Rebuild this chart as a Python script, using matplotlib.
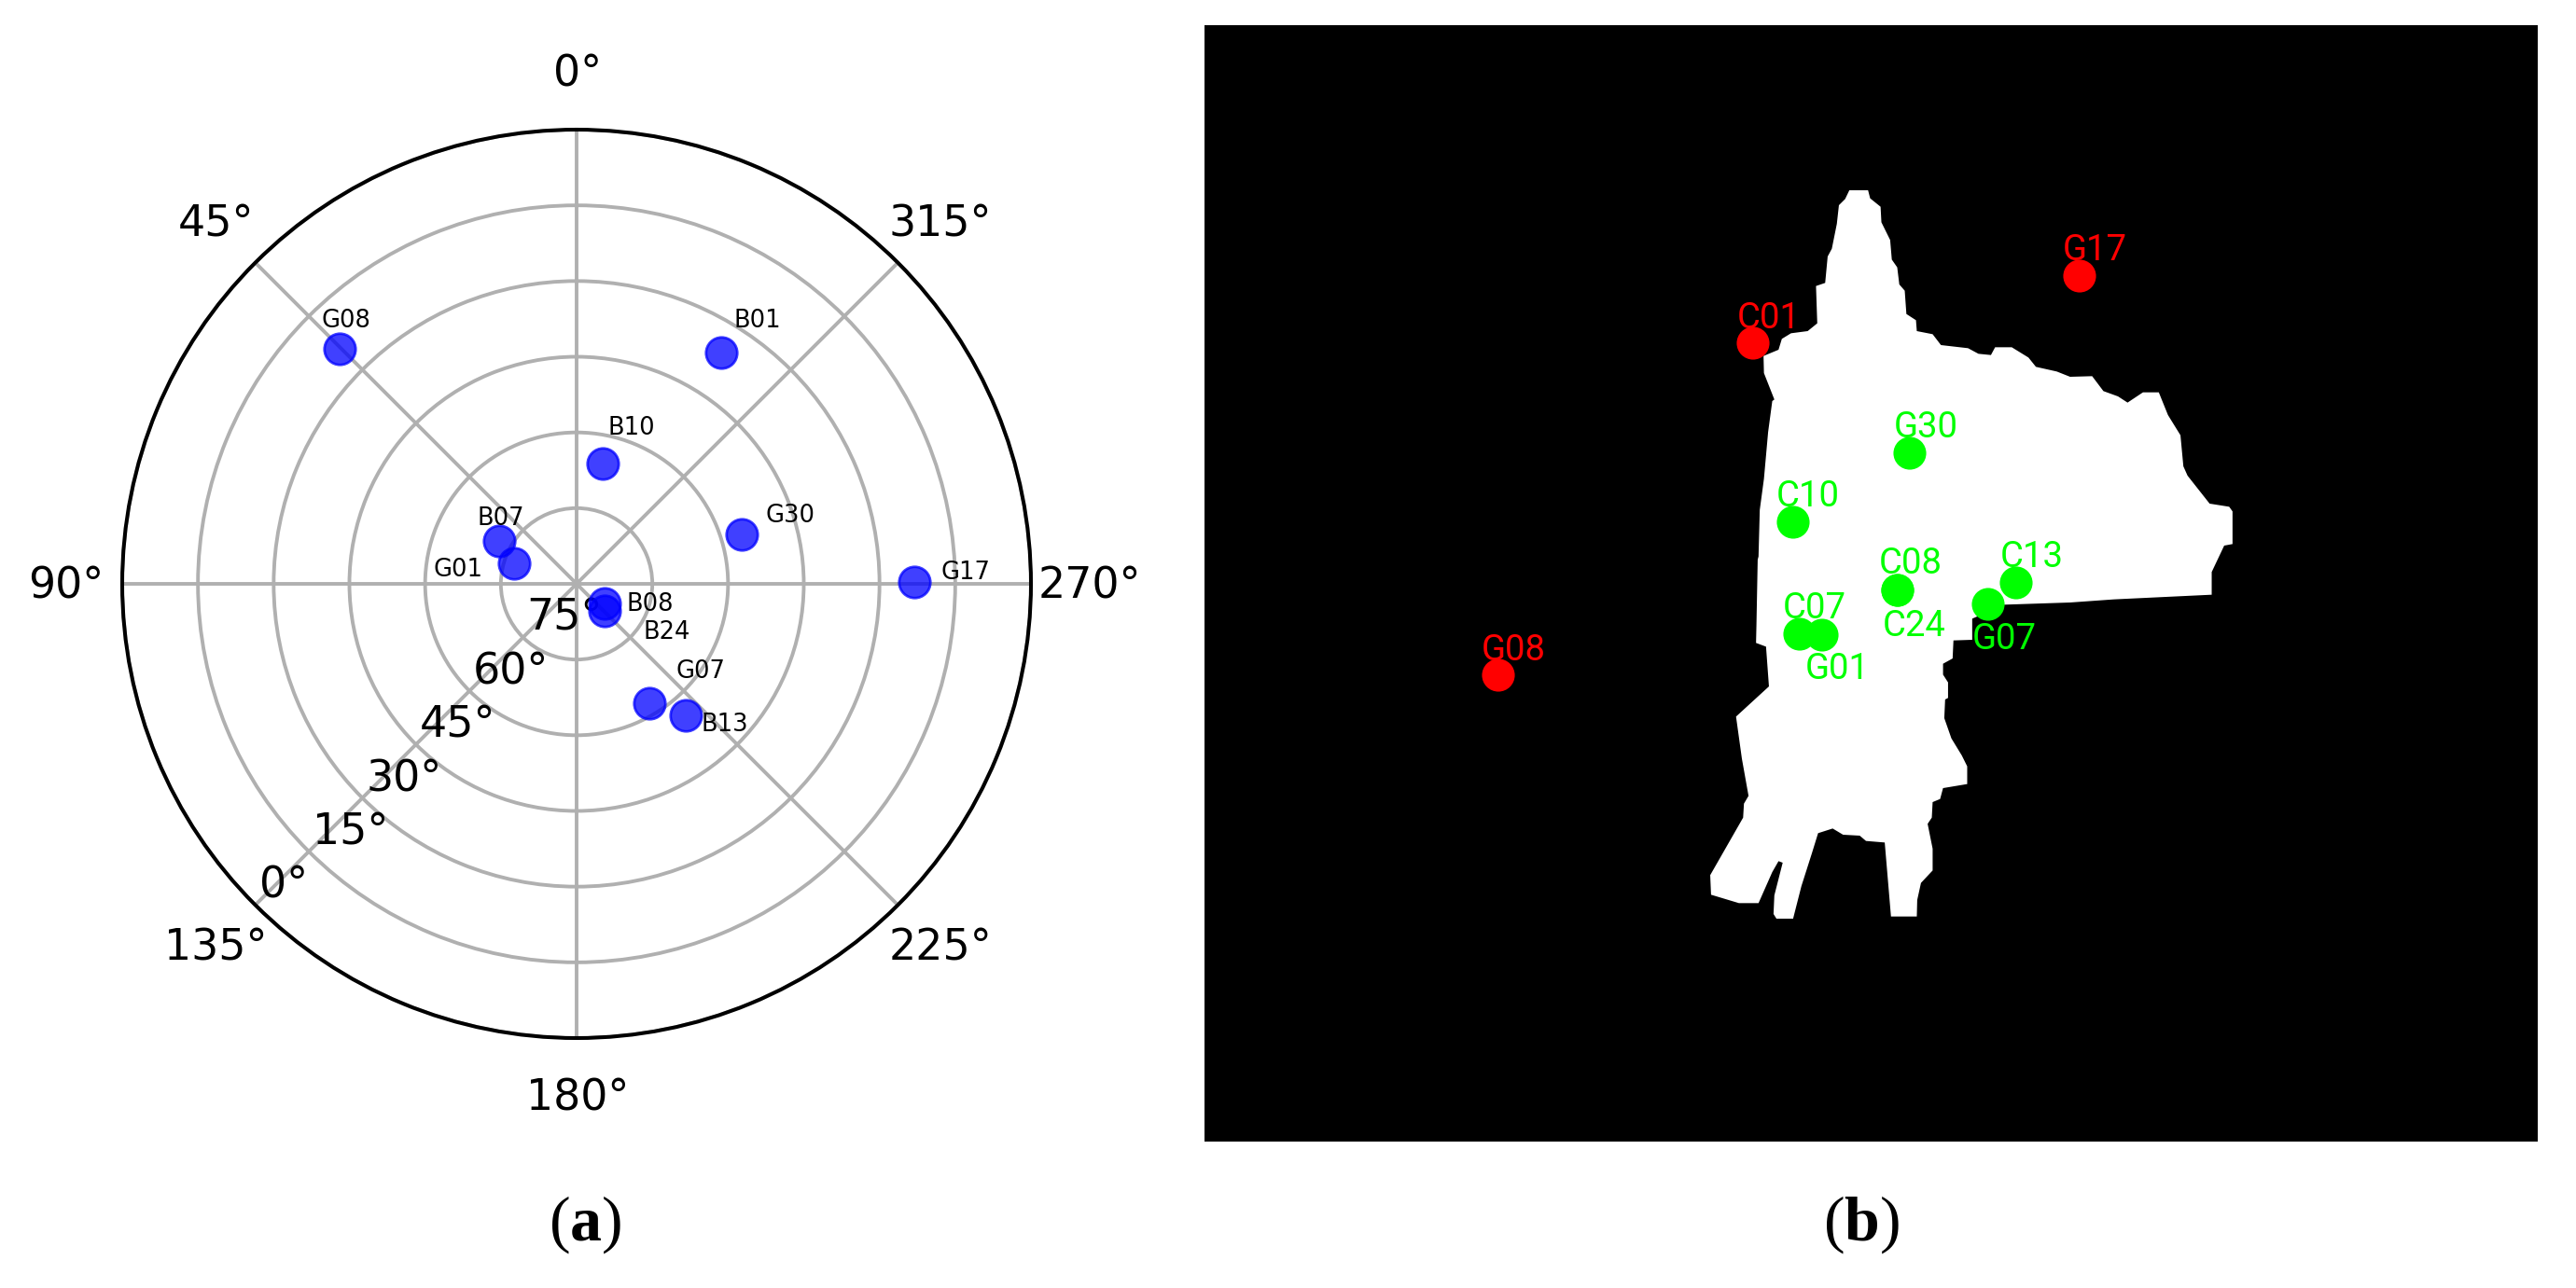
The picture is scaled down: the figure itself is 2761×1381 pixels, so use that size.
import numpy as np
import matplotlib
matplotlib.use("Agg")
import matplotlib.pyplot as plt
from matplotlib.transforms import ScaledTranslation

plt.rcParams['mathtext.fontset'] = 'custom'
plt.rcParams['mathtext.rm'] = 'Liberation Serif'
plt.rcParams['mathtext.bf'] = 'Liberation Serif:bold'

W, H = 2761, 1381

# ---- panel (a): sky plot
sat_names = ["G08", "B01", "G17", "B10", "G30", "B07", "G01", "B08", "B24", "G07", "B13"]
sat_azimuth = [45.2, 328.0, 270.3, 347.9, 286.7, 60.8, 71.6, 234.7, 225.1, 211.3, 219.7]
sat_elevation = [23.8, 35.9, 23.1, 65.7, 55.9, 72.5, 76.9, 83.3, 82.3, 62.3, 56.1]
elevation_ticks = [75, 60, 45, 30, 15, 0]
azimuth_ticks = [0, 45, 90, 135, 180, 225, 270, 315]

# label offsets, reference pixels (right, up) from the dot
sky_label_dx = [7, 39, 55, 31, 52, 1, -60, 49, 67, 55, 42]
sky_label_dy = [30, 34, 10, 38, 20, 24, -7, -1, -23, 34, -10]

# ---- panel (b): visibility on the sky mask
vis_names = ["G17", "C01", "G08", "G30", "C10", "C13", "G07", "C08", "C24", "C07", "G01"]
vis_x = [2229, 1879, 1606, 2047, 1922, 2161, 2131, 2034, 2034, 1929, 1953]
vis_y = [296, 368, 724, 486, 560, 625, 648, 633, 633, 680, 681]
vis_blocked = [True, True, True, False, False, False, False, False, False, False, False]
vis_label_x = [2211, 1862, 1588, 2030, 1904, 2144, 2114, 2014, 2018, 1911, 1935]
vis_label_y = [279, 352, 708, 469, 543, 608, 696, 615, 682, 663, 728]

mask_upper_u = [520,565,570,595,597,618,622,635,640,653,657,680,682,720,740,805,830,860,870,910,950,968,1018,1050,1103,1130,1165,1188,1225,1263,1285,1315,1322,1332,1385,1432,1440,1440,1420,1390,1390,1280,1155,1050,892]
mask_upper_v = [72,72,98,125,175,232,295,320,375,395,470,490,525,535,570,580,598,602,577,577,610,640,655,672,670,718,735,755,722,722,795,860,960,990,1080,1090,1105,1210,1215,1300,1373,1380,1388,1398,1405]
mask_lower_u = [815,815,770,768,745,745,757,757,750,748,765,790,803,803,745,738,720,718,708,720,720,692,683,682,620,605,560,545,505,480,445,430,405,385,345,338,340,360,350,335,302,255,188,186,265,267,278,262,248,327,320,296,297,300]
mask_lower_v = [190,258,260,318,335,370,395,445,450,510,575,630,665,722,735,770,780,830,850,930,1000,1040,1095,1148,1148,910,905,888,885,865,880,945,1050,1155,1155,1140,1080,975,970,1005,1105,1105,1078,1015,830,785,760,640,505,408,280,268,210,0]
mask_return_u = [302,305,315,325,335,340,315,314,350,358,380,420,443,440,462,468,478,490,495,510]
mask_return_v = [1250,1100,1000,850,750,745,660,605,585,550,532,525,500,380,370,285,260,180,120,100]

fig = plt.figure(figsize=(W / 100, H / 100), dpi=100, facecolor="white")

# ---- (a)
cx, cy, R = 618, 626, 487
ax = fig.add_axes([(cx - R) / W, 1 - (cy + R) / H, 2 * R / W, 2 * R / H], projection="polar")
ax.set_theta_zero_location("N")
ax.set_theta_direction(1)
ax.set_rlim(0, 90)
ax.set_xticks(np.deg2rad(azimuth_ticks))
ax.set_xticklabels([f"{a}°" for a in azimuth_ticks], fontsize=33, color="black")
ax.tick_params(axis="x", pad=34)
ax.set_yticks([90 - e for e in elevation_ticks])
ax.set_yticklabels([f"{e}°" for e in elevation_ticks], fontsize=33)
ax.set_rlabel_position(135)
ax.grid(True, color="#b0b0b0", lw=2.8)
ax.spines["polar"].set_linewidth(2.9)
ax.set_axisbelow(True)
for lab in ax.get_yticklabels():
    lab.set_ha("left")
    lab.set_va("center")
    lab.set_transform(lab.get_transform() + ScaledTranslation(0.04, 0.20, fig.dpi_scale_trans))
for lab in ax.get_xticklabels():
    lab.set_transform(lab.get_transform() + ScaledTranslation(0.015, -0.03, fig.dpi_scale_trans))

theta = np.deg2rad(sat_azimuth)
r = 90 - np.array(sat_elevation)
ax.scatter(theta, r, s=580, color="#0000ff", alpha=0.75, linewidths=2, zorder=3, clip_on=False)
for n, t, rr, dx, dy in zip(sat_names, theta, r, sky_label_dx, sky_label_dy):
    ax.annotate(n, (t, rr), xytext=(dx * 0.72, dy * 0.72), textcoords="offset points",
                ha="center", va="center", fontsize=18.5, color="black", zorder=4)

# ---- (b)  axes data units are reference pixels
L, T, Rt, B = 1291, 27, 2720, 1224
bx = fig.add_axes([L / W, 1 - B / H, (Rt - L) / W, (B - T) / H])
bx.set_xlim(L, Rt)
bx.set_ylim(B, T)
bx.set_facecolor("black")
bx.set_xticks([])
bx.set_yticks([])
for s in bx.spines.values():
    s.set_visible(False)

up_x = 1750 + np.array(mask_upper_u) / 2.24
up_y = 180 + np.array(mask_upper_v) / 3
lo_x = 1750 + np.array(mask_lower_u) / 2.24
lo_y = 600 + np.array(mask_lower_v) / 3
re_x = 1750 + np.array(mask_return_u) / 2.24
re_y = 180 + np.array(mask_return_v) / 3
bx.fill(np.r_[up_x, lo_x, re_x], np.r_[up_y, lo_y, re_y], color="white", lw=0, zorder=1)

cols = ["#ff0000" if b else "#00ff00" for b in vis_blocked]
bx.scatter(vis_x, vis_y, s=640, c=cols, linewidths=0, zorder=2)
for n, x, y, c in zip(vis_names, vis_label_x, vis_label_y, cols):
    bx.text(x, y, n, color=c, fontsize=27.5, family="Roboto", ha="left", va="baseline", zorder=3)

# ---- captions
fig.text(627 / W, 1 - 1313 / H, r"$(\mathbf{a})$", fontsize=49, ha="center", va="center")
fig.text(1995 / W, 1 - 1313 / H, r"$(\mathbf{b})$", fontsize=49, ha="center", va="center")

fig.savefig("out.png", dpi=100, facecolor="white")
